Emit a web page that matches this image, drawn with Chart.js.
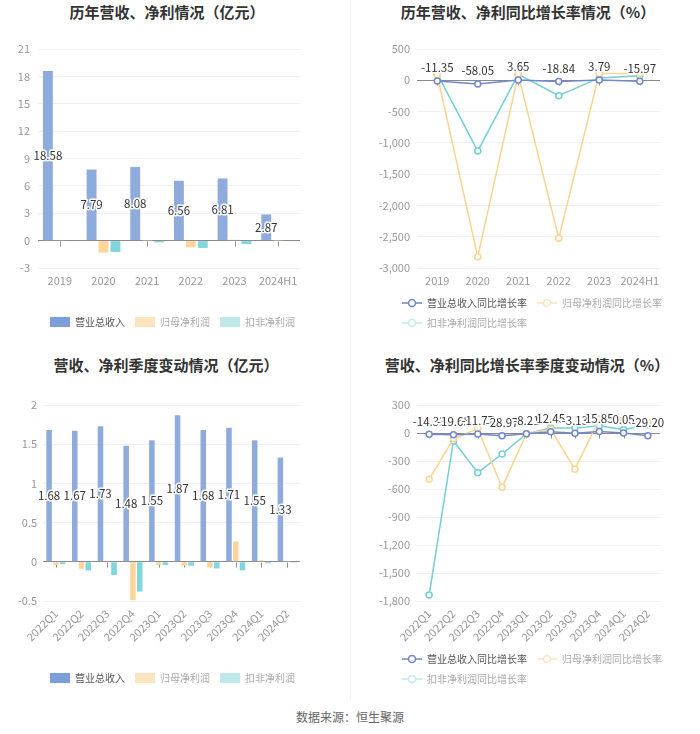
<!DOCTYPE html>
<html><head><meta charset="utf-8">
<script src="https://cdn.jsdelivr.net/npm/chart.js@4.4.1/dist/chart.umd.min.js"></script>
<style>
body{margin:0;background:#fff;}
#wrap{position:relative;width:700px;height:734px;background:#fff;font-family:"Noto Sans CJK SC","Noto Sans",sans-serif;overflow:hidden;}
canvas{position:absolute;}
.t{position:absolute;width:300px;text-align:center;font-size:15px;font-weight:bold;color:#333;line-height:20px;white-space:nowrap;}
.src{position:absolute;left:0;width:700px;top:709px;text-align:center;font-size:12px;color:#666;line-height:16px;}
.div{position:absolute;left:350px;top:0;width:1px;height:700px;background:#f2f2f2;}
</style></head><body>
<div id="wrap">
  <div class="div"></div>
  <div class="t" style="left:17px;top:2px">历年营收、净利情况（亿元）</div>
  <div class="t" style="left:378px;top:2px">历年营收、净利同比增长率情况（%）</div>
  <div class="t" style="left:16px;top:355px">营收、净利季度变动情况（亿元）</div>
  <div class="t" style="left:377px;top:355px">营收、净利同比增长率季度变动情况（%）</div>
  <canvas id="c1" width="350" height="345" style="left:0;top:0"></canvas>
  <canvas id="c2" width="350" height="345" style="left:350px;top:0"></canvas>
  <canvas id="c3" width="350" height="355" style="left:0;top:345px"></canvas>
  <canvas id="c4" width="350" height="355" style="left:350px;top:345px"></canvas>
  <div class="src">数据来源：恒生聚源</div>
</div>
<script>
// ---------- data ----------
const years = ['2019','2020','2021','2022','2023','2024H1'];
const yearRevenue = [18.58, 7.79, 8.08, 6.56, 6.81, 2.87];
const yearNetProfit = [0.04, -1.31, 0.02, -0.73, 0.10, 0.01];
const yearDeductProfit = [-0.05, -1.24, -0.2, -0.8, -0.38, -0.04];
const yearRevenueGrowth = [-11.35, -58.05, 3.65, -18.84, 3.79, -15.97];
const yearNetGrowth = [80, -2821, 95, -2526, 110, 110];
const yearDeductGrowth = [105, -1132, 95, -247, 38, 74];

const quarters = ['2022Q1','2022Q2','2022Q3','2022Q4','2023Q1','2023Q2','2023Q3','2023Q4','2024Q1','2024Q2'];
const qRevenue = [1.68, 1.67, 1.73, 1.48, 1.55, 1.87, 1.68, 1.71, 1.55, 1.33];
const qNetProfit = [-0.04, -0.09, -0.01, -0.49, -0.04, -0.05, -0.07, 0.26, 0.02, 0.003];
const qDeductProfit = [-0.03, -0.11, -0.17, -0.38, -0.04, -0.05, -0.085, -0.11, -0.02, -0.01];
const qRevenueGrowth = [-14.33, -19.65, -11.77, -28.97, -8.21, 12.45, -3.13, 15.85, 0.05, -29.20];
const qNetGrowth = [-496, -60, 45, -582, -10, 40, -389, 150, 150, 115];
const qDeductGrowth = [-1736, -85, -425, -225, -10, 54, 54, 78, 35, 89];

const barNames = ['营业总收入','归母净利润','扣非净利润'];
const lineNames = ['营业总收入同比增长率','归母净利润同比增长率','扣非净利润同比增长率'];

// ---------- styles ----------
const FONT = '"Noto Sans CJK SC","Noto Sans",sans-serif';
Chart.defaults.font.family = FONT;
Chart.defaults.animation = false;
const BLUE = '#8eabdc', ORANGE = '#fdd49a', CYAN = '#80d6da';
const LBLUE = '#7088d0', LORANGE = '#fcd38f', LCYAN = '#72cfd2';
const LEG_BAR = ['#7d9ed8', '#fde3bf', '#bfe8eb'];
const LEG_LINE = ['#6f87c9', '#fde3bf', '#c4e9eb'];
const LEG_TEXT = ['#555', '#aaa', '#aaa'];
const gridColor = c => (c.tick && c.tick.value === 0) ? '#8a8a8a' : '#eef0f4';

function markerImg(color){
  const c = document.createElement('canvas'); c.width = 20; c.height = 10;
  const g = c.getContext('2d');
  g.strokeStyle = color; g.lineWidth = 1.5;
  g.beginPath(); g.moveTo(0,5); g.lineTo(20,5); g.stroke();
  g.beginPath(); g.arc(10,5,3.5,0,Math.PI*2); g.fillStyle='#fff'; g.fill(); g.stroke();
  return c;
}

const valueLabels = {
  id:'valueLabels',
  afterDatasetsDraw(chart, args, opts){
    const ctx = chart.ctx, meta = chart.getDatasetMeta(0), data = chart.data.datasets[0].data;
    ctx.save();
    ctx.font = '11.5px ' + FONT; ctx.textAlign='center'; ctx.textBaseline='middle';
    ctx.lineWidth = 3; ctx.lineJoin='round'; ctx.strokeStyle='#fff'; ctx.fillStyle='#333';
    meta.data.forEach((el,i)=>{
      const y = opts.mode === 'bar' ? (el.y + el.base)/2 : el.y - 13;
      const s = data[i].toFixed(2);
      ctx.strokeText(s, el.x, y); ctx.fillText(s, el.x, y);
    });
    ctx.restore();
  }
};
const zeroTicks = {
  id:'zeroTicks',
  beforeDatasetsDraw(chart){
    const ctx = chart.ctx, xs = chart.scales.x, ys = chart.scales.y;
    const y0 = Math.round(ys.getPixelForValue(0)) + 0.5;
    ctx.save(); ctx.strokeStyle='#8a8a8a'; ctx.lineWidth=1;
    chart.data.labels.forEach((l,i)=>{
      const x = Math.round(xs.getPixelForValue(i)) + 0.5;
      ctx.beginPath(); ctx.moveTo(x,y0); ctx.lineTo(x,y0+5); ctx.stroke();
    });
    ctx.restore();
  }
};
function legendAt(left, top){
  return {id:'legendAt', afterLayout(chart){
    const l = chart.legend; const w = l.right - l.left, h = l.bottom - l.top;
    l.left = left; l.right = left + w; l.top = top; l.bottom = top + h;
  }};
}

function yAxis(min, max, step, width, pad, fmt){
  return { min, max, ticks:{stepSize:step, color:'#999', font:{size:11}, padding:pad, callback: fmt || (v=>v)},
    grid:{color:gridColor, drawTicks:false}, border:{display:false}, afterFit(s){ s.width = width; } };
}
function xAxis(height, rot, pad, offset){
  return { offset: offset, grid:{display:false, drawTicks:false}, border:{display:false},
    ticks:{color:'#999', font:{size:11}, padding:pad, autoSkip:false, minRotation:rot, maxRotation:rot},
    afterFit(s){ s.height = height; } };
}
function barLegend(){
  return { position:'bottom', align:'start',
    labels:{ boxWidth:20, boxHeight:10, padding:10, font:{size:10}, useBorderRadius:true, borderRadius:3,
      generateLabels: () => barNames.map((t,i)=>({text:t, fillStyle:LEG_BAR[i], strokeStyle:LEG_BAR[i], lineWidth:0, fontColor:LEG_TEXT[i], hidden:false, datasetIndex:i})) } };
}
function lineLegend(){
  const imgs = LEG_LINE.map(markerImg);
  return { position:'bottom', align:'start',
    labels:{ usePointStyle:true, pointStyleWidth:20, boxHeight:10, padding:10, font:{size:10},
      generateLabels: () => lineNames.map((t,i)=>({text:t, pointStyle:imgs[i], fillStyle:LEG_LINE[i], strokeStyle:LEG_LINE[i], lineWidth:0, fontColor:LEG_TEXT[i], hidden:false, datasetIndex:i})) } };
}
function lineDs(label, data, color){
  return {label, data, borderColor:color, backgroundColor:'#fff', pointBackgroundColor:'#fff', pointBorderColor:color,
    pointRadius:3, pointBorderWidth:1.5, borderWidth:1.5, tension:0};
}
const fmtComma = v => Number(v).toLocaleString('en-US');

// ---------- chart 1 ----------
new Chart(document.getElementById('c1'), {
  type:'bar',
  data:{ labels: years, datasets:[
    {label:barNames[0], data:yearRevenue, backgroundColor:BLUE, categoryPercentage:0.82, barPercentage:0.83},
    {label:barNames[1], data:yearNetProfit, backgroundColor:ORANGE, categoryPercentage:0.82, barPercentage:0.83},
    {label:barNames[2], data:yearDeductProfit, backgroundColor:CYAN, categoryPercentage:0.82, barPercentage:0.83}
  ]},
  options:{ responsive:false, devicePixelRatio:1,
    layout:{padding:{top:49,left:0,right:50,bottom:20}},
    scales:{ x: xAxis(27, 0, 6, true), y: yAxis(-3, 21, 3, 38, 8) },
    plugins:{ legend: barLegend(), tooltip:{enabled:false}, valueLabels:{mode:'bar'} } },
  plugins:[valueLabels, zeroTicks, legendAt(40, 307)]
});

// ---------- chart 2 ----------
new Chart(document.getElementById('c2'), {
  type:'line',
  data:{ labels: years, datasets:[
    lineDs(lineNames[0], yearRevenueGrowth, LBLUE),
    lineDs(lineNames[1], yearNetGrowth, LORANGE),
    lineDs(lineNames[2], yearDeductGrowth, LCYAN)
  ]},
  options:{ responsive:false, devicePixelRatio:1,
    layout:{padding:{top:49,left:0,right:40,bottom:0}},
    scales:{ x: xAxis(27, 0, 6, true), y: yAxis(-3000, 500, 500, 67, 7, fmtComma) },
    plugins:{ legend: lineLegend(), tooltip:{enabled:false}, valueLabels:{mode:'line'} } },
  plugins:[valueLabels, zeroTicks, legendAt(42, 288)]
});

// ---------- chart 3 ----------
new Chart(document.getElementById('c3'), {
  type:'bar',
  data:{ labels: quarters, datasets:[
    {label:barNames[0], data:qRevenue, backgroundColor:BLUE, categoryPercentage:0.79, barPercentage:0.82},
    {label:barNames[1], data:qNetProfit, backgroundColor:ORANGE, categoryPercentage:0.79, barPercentage:0.82},
    {label:barNames[2], data:qDeductProfit, backgroundColor:CYAN, categoryPercentage:0.79, barPercentage:0.82}
  ]},
  options:{ responsive:false, devicePixelRatio:1,
    layout:{padding:{top:60,left:0,right:50,bottom:19}},
    scales:{ x: xAxis(50, 45, 6, true), y: yAxis(-0.5, 2, 0.5, 43, 6) },
    plugins:{ legend: barLegend(), tooltip:{enabled:false}, valueLabels:{mode:'bar'} } },
  plugins:[valueLabels, zeroTicks, legendAt(40, 318)]
});

// ---------- chart 4 ----------
new Chart(document.getElementById('c4'), {
  type:'line',
  data:{ labels: quarters, datasets:[
    lineDs(lineNames[0], qRevenueGrowth, LBLUE),
    lineDs(lineNames[1], qNetGrowth, LORANGE),
    lineDs(lineNames[2], qDeductGrowth, LCYAN)
  ]},
  options:{ responsive:false, devicePixelRatio:1,
    layout:{padding:{top:60,left:0,right:40,bottom:4}},
    scales:{ x: xAxis(45, 45, 6, true), y: yAxis(-1800, 300, 300, 67, 7, fmtComma) },
    plugins:{ legend: lineLegend(), tooltip:{enabled:false}, valueLabels:{mode:'line'} } },
  plugins:[valueLabels, zeroTicks, legendAt(42, 299)]
});
</script>
</body></html>
